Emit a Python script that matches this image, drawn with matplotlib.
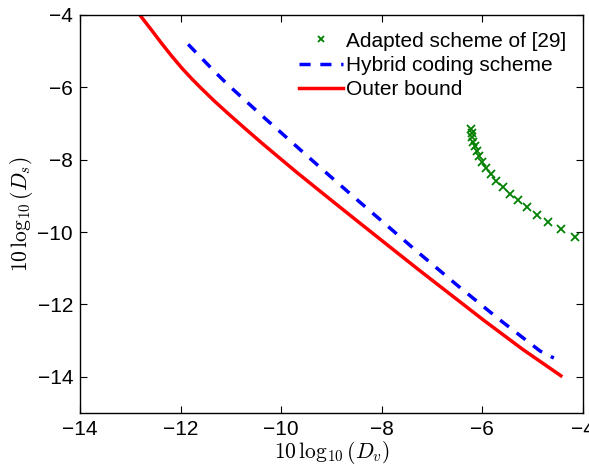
import matplotlib
matplotlib.use("Agg")
import matplotlib.pyplot as plt

plt.rcParams['font.family'] = ['Liberation Sans', 'DejaVu Sans']
plt.rcParams['mathtext.fontset'] = 'cm'

# Adapted scheme of [29]
adapted_x = [-6.23, -6.21, -6.20, -6.18, -6.15, -6.11, -6.07, -6.00, -5.92, -5.83,
             -5.72, -5.60, -5.46, -5.30, -5.12, -4.92, -4.69, -4.43, -4.16]
adapted_y = [-7.16, -7.27, -7.38, -7.50, -7.62, -7.75, -7.90, -8.05, -8.23, -8.40,
             -8.58, -8.76, -8.94, -9.12, -9.31, -9.52, -9.72, -9.92, -10.14]

# Hybrid coding scheme
hybrid_x = [-11.85, -11.55, -11.32, -11.08, -10.82, -10.32, -10.06, -9.56, -9.04,
            -8.53, -7.27, -6.5, -5.65, -4.85, -4.58]
hybrid_y = [-4.81, -5.24, -5.57, -5.90, -6.23, -6.86, -7.18, -7.80, -8.44,
            -9.06, -10.57, -11.47, -12.43, -13.29, -13.48]

# Outer bound
outer_x = [-12.81, -12.57, -12.38, -12.18, -11.98, -11.78, -11.58, -11.32, -11.05,
           -10.75, -10.36, -9.69, -9.03, -8.50, -7.64, -7.24, -5.98, -5.2, -4.44]
outer_y = [-4.00, -4.43, -4.78, -5.13, -5.46, -5.76, -6.04, -6.39, -6.73,
           -7.10, -7.57, -8.35, -9.09, -9.68, -10.63, -11.07, -12.43, -13.24, -13.97]

xticks = [-14, -12, -10, -8, -6, -4]
yticks = [-14, -12, -10, -8, -6, -4]

fig = plt.figure(figsize=(5.89, 4.65), dpi=100)
ax = fig.add_axes([80/589, 1 - 413/465, 503/589, 398/465])

ax.plot(adapted_x, adapted_y, linestyle='none', marker='x', color=(0, 0.5, 0),
        markersize=6, markeredgewidth=1.3, label='Adapted scheme of [29]')
ax.plot(hybrid_x, hybrid_y, linestyle=(0, (3.2, 2.8)), color='#0000ff', linewidth=2.5,
        label='Hybrid coding scheme')
ax.plot(outer_x, outer_y, linestyle='-', color='#ff0000', linewidth=2.5,
        label='Outer bound')

ax.set_xlim(-14, -4)
ax.set_ylim(-15, -4)
ax.set_xticks(xticks)
ax.set_yticks(yticks)
ax.set_xticklabels(['\u2212' + str(abs(t)) for t in xticks])
ax.set_yticklabels(['\u2212' + str(abs(t)) for t in yticks])
ax.tick_params(direction='in', top=True, right=True, labelsize=15, length=5, width=0.8,
               pad=5)
for s in ax.spines.values():
    s.set_linewidth(1.0)

ax.set_xlabel(r'$10\,\log_{10}(D_v)$', fontsize=15.5, labelpad=0)
ax.set_ylabel(r'$10\,\log_{10}(D_s)$', fontsize=15.5, labelpad=2)

ax.legend(loc='upper right', frameon=False, fontsize=15, handlelength=2.1,
          handletextpad=0.15, labelspacing=0.25, borderaxespad=0.4,
          bbox_to_anchor=(1.0, 1.0), markerscale=0.7)

fig.savefig('out.png', dpi=100)
